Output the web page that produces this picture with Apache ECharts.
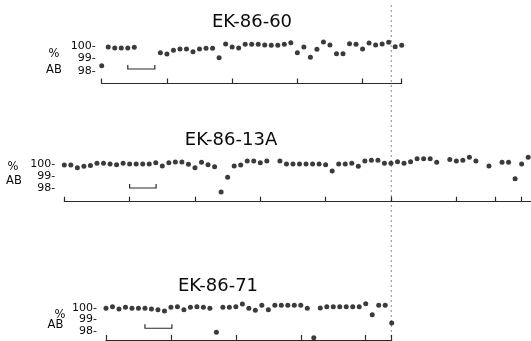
<!DOCTYPE html>
<html>
<head>
<meta charset="utf-8">
<script src="https://cdn.jsdelivr.net/npm/echarts@6/dist/echarts.min.js"></script>
<style>
  html, body { margin: 0; padding: 0; background: #fff; }
  #chart { width: 531px; height: 341px; }
</style>
</head>
<body>
<div id="chart"></div>
<script>
// Albite content (% AB) of successive analysis points along three traverses.
// Position is the analysis-point number along each traverse; null = no reading.
const sampleNames = ['EK-86-60', 'EK-86-13A', 'EK-86-71'];

const ab60 = [98.42, 99.92, 99.84, 99.84, 99.84, 99.9, null, null, null, 99.46,
  99.36, 99.66, 99.76, 99.76, 99.54, 99.76, 99.82, 99.82, 99.06, 100.16,
  99.92, 99.84, 100.14, 100.14, 100.14, 100.08, 100.06, 100.06, 100.14, 100.26,
  99.46, 99.92, 99.1, 99.74, 100.32, 100.08, 99.38, 99.38, 100.18, 100.14,
  99.76, 100.24, 100.08, 100.16, 100.3, 99.94, 100.06];

const ab13a = [99.94, 99.94, 99.7, 99.83, 99.9, 100.08, 100.08, 100.02, 99.97, 100.08,
  100.02, 100.02, 100.02, 100.02, 100.14, 99.85, 100.14, 100.2, 100.2, 100.0,
  99.7, 100.17, 99.97, 99.8, 97.63, 98.89, 99.85, 99.94, 100.28, 100.28,
  100.14, 100.28, null, 100.28, 100.02, 100.02, 100.02, 100.02, 100.02, 100.02,
  99.97, 99.43, 100.02, 100.02, 100.08, 99.83, 100.28, 100.34, 100.34, 100.08,
  100.08, 100.22, 100.08, 100.22, 100.48, 100.48, 100.48, 100.17, null, 100.4,
  100.28, 100.34, 100.6, 100.28, null, 99.85, null, 100.17, 100.17, 98.77,
  100.02, 100.6];

const ab71 = [100, 100.14, 99.94, 100.09, 100, 100, 100, 99.94, 99.88, 99.76,
  100.09, 100.14, 99.88, 100.09, 100.14, 100.09, 100, 97.88, 100.09, 100.09,
  100.14, 100.38, 100, 99.82, 100.27, 99.88, 100.27, 100.27, 100.27, 100.27,
  100.27, 100, 97.4, 100.03, 100.14, 100.14, 100.14, 100.14, 100.14, 100.14,
  100.41, 99.43, 100.27, 100.27, 98.7];

// traverse extent (point number at the end of each traverse line)
const traverseEnd = [46, 71.4, 44];
// tick marks along each traverse
const ticks60 = [0, 10, 20, 30, 40, 46];
const ticks13a = [0, 10, 20, 30, 40, 50, 60, 66, 70];
const ticks71 = [0, 10, 20, 30, 40, 44];
// y-axis labels (% AB)
const abLabels = [98, 99, 100];
// scale bars: [start, end, % AB level]
const scale60 = [4.0, 8.15, 98.16];
const scale13a = [10.0, 14.05, 97.97];
const scale71 = [6.0, 10.15, 98.23];
// position of the contact, in point numbers of the EK-86-60 traverse
const contactPos = 44.4;

const FONT = 'DejaVu Sans';
const INK = '#0a0a0a';

const chart = echarts.init(document.getElementById('chart'), null, { renderer: 'canvas' });

// layout of the three panels
const panels = [
  { left: 101.7, width: 300, top: 33.5, height: 50, yMin: 97, yMax: 101, labelMargin: 6 },
  { left: 64.3, width: 466.5, top: 152.6, height: 49.1, yMin: 96.8, yMax: 101, labelMargin: 9 },
  { left: 106, width: 285.7, top: 297, height: 42.9, yMin: 97.2, yMax: 101, labelMargin: 9 }
];
const values = [ab60, ab13a, ab71];
const tickSets = [ticks60, ticks13a, ticks71];
const scaleBars = [scale60, scale13a, scale71];

const toPoints = arr => arr.map((v, i) => (v == null ? null : [i, v])).filter(p => p);

const grid = panels.map(p => ({ left: p.left, top: p.top, width: p.width, height: p.height }));

const xAxis = panels.map((p, k) => ({
  type: 'value', gridIndex: k, min: 0, max: traverseEnd[k],
  axisLine: { show: true, onZero: false, lineStyle: { color: '#2a2a2a', width: 1.2 } },
  axisTick: { show: true, inside: true, length: 5, customValues: tickSets[k],
    lineStyle: { color: '#2a2a2a', width: 1.2 } },
  axisLabel: { show: false },
  splitLine: { show: false }
}));

const yAxis = panels.map((p, k) => ({
  type: 'value', gridIndex: k, min: p.yMin, max: p.yMax,
  axisLine: { show: false },
  axisTick: { show: false },
  splitLine: { show: false },
  axisLabel: {
    customValues: abLabels,
    formatter: '{value}-',
    fontFamily: FONT, fontSize: 11, color: INK, margin: p.labelMargin
  }
}));

const series = [];
values.forEach((arr, k) => {
  series.push({
    type: 'scatter', xAxisIndex: k, yAxisIndex: k,
    data: toPoints(arr),
    symbol: 'circle', symbolSize: 5,
    itemStyle: { color: INK },
    silent: true, animation: false
  });
  series.push({
    type: 'custom', xAxisIndex: k, yAxisIndex: k,
    data: [scaleBars[k]],
    silent: true, animation: false,
    renderItem: (params, api) => {
      const a = api.coord([api.value(0), api.value(2)]);
      const b = api.coord([api.value(1), api.value(2)]);
      return {
        type: 'polyline',
        shape: { points: [[a[0], a[1] - 4], a, b, [b[0], b[1] - 4]] },
        style: { stroke: '#2a2a2a', lineWidth: 1.2, fill: null }
      };
    }
  });
});

const titleStyle = { fontFamily: FONT, fontSize: 18, fontWeight: 'normal', color: INK, letterSpacing: 0.8 };
const title = [
  { text: sampleNames[0], left: 247, top: 8, textAlign: 'center', textStyle: titleStyle },
  { text: sampleNames[1], left: 226, top: 126, textAlign: 'center', textStyle: titleStyle },
  { text: sampleNames[2], left: 213, top: 272, textAlign: 'center', textStyle: titleStyle }
];

chart.setOption({ animation: false, title, grid, xAxis, yAxis, series });

// "% AB" axis captions next to each panel
const captionStyle = { fontFamily: FONT, fontSize: 11.5, fill: INK, textAlign: 'center', textVerticalAlign: 'middle' };
const captions = [
  [54, 54, 54, 70],
  [13, 167, 14, 181],
  [60, 315, 55.5, 325]
];
const graphic = [];
captions.forEach((c, k) => {
  graphic.push({ type: 'text', x: c[0], y: c[1], style: Object.assign({ text: '%' }, captionStyle) });
  graphic.push({ type: 'text', x: c[2], y: c[3], style: Object.assign({ text: 'AB' }, captionStyle) });
});

// dashed contact line running through all three panels
const cx = chart.convertToPixel({ xAxisIndex: 0 }, contactPos);
graphic.push({
  type: 'line', silent: true,
  shape: { x1: cx, y1: 5, x2: cx, y2: 341 },
  style: { stroke: '#8a8a8a', lineWidth: 1, lineDash: [2, 3] }
});

chart.setOption({ graphic });
</script>
</body>
</html>
